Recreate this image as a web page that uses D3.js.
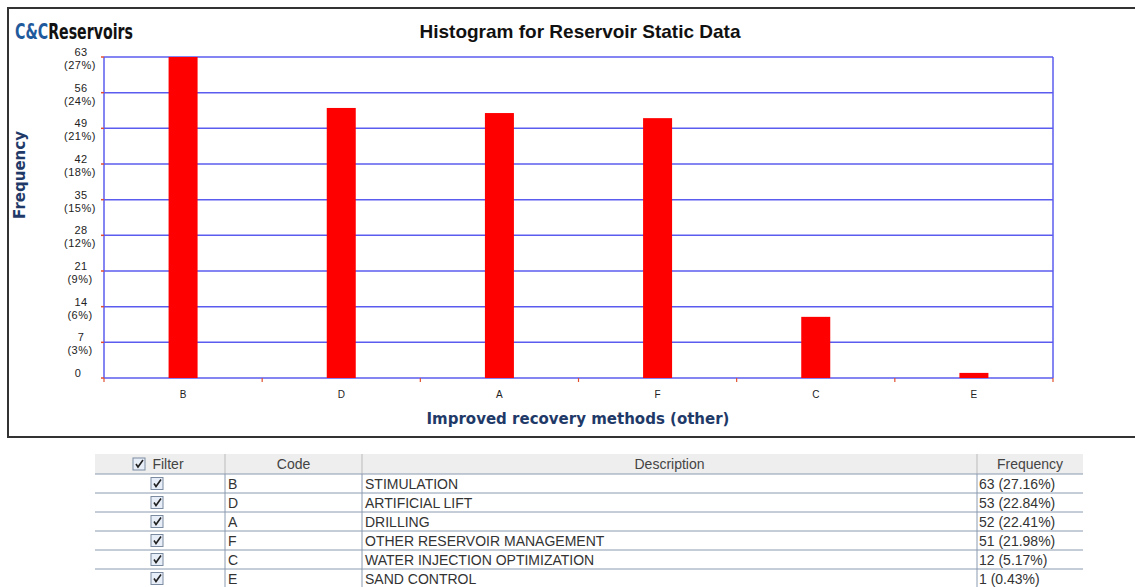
<!DOCTYPE html>
<html><head><meta charset="utf-8">
<script src="https://cdn.jsdelivr.net/npm/d3@7"></script>
<style>
body{margin:0;background:#fff;overflow:hidden}
svg{display:block}
</style></head>
<body>
<svg id="c" width="1135" height="587"></svg>
<script>
const codes = ["B","D","A","F","C","E"];
const descriptions = ["STIMULATION","ARTIFICIAL LIFT","DRILLING","OTHER RESERVOIR MANAGEMENT","WATER INJECTION OPTIMIZATION","SAND CONTROL"];
const frequencies = [63,53,52,51,12,1];
const percents = ["27.16%","22.84%","22.41%","21.98%","5.17%","0.43%"];
const yTicks = [0,7,14,21,28,35,42,49,56,63];
const yTickPct = ["","3%","6%","9%","12%","15%","18%","21%","24%","27%"];
const tableHeaders = ["Filter","Code","Description","Frequency"];

const svg = d3.select("#c");
const navy = "#1f3a68";
const gridC = "#5b5bef";

// outer frame
svg.append("rect").attr("x",8).attr("y",8).attr("width",1140).attr("height",429)
  .attr("fill","#fff").attr("stroke","#333").attr("stroke-width",2);

// logo (horizontally condensed via scale)
const logoFont = "'DejaVu Sans Condensed','Liberation Sans Narrow',sans-serif";
const logoG = svg.append("g");
const logo = logoG.append("text").attr("x",0).attr("y",0).attr("font-family",logoFont)
  .attr("font-weight","bold").attr("font-size",22);
logo.append("tspan").attr("fill","#1f5a9c").text("C&C");
logo.append("tspan").attr("fill","#111").text("Reservoirs");
const natW = logo.node().getComputedTextLength();
logoG.attr("transform",`translate(15,39) scale(${118/natW},1)`);

svg.append("text").attr("x",580).attr("y",38).attr("text-anchor","middle")
  .attr("font-family","Arial, 'Liberation Sans', sans-serif").attr("font-weight","bold")
  .attr("font-size",19).attr("fill","#111").text("Histogram for Reservoir Static Data");

const L=104, R=1053, T=57, B=378;
const x = d3.scaleBand().domain(codes).range([L,R]);
const y = d3.scaleLinear().domain([0,63]).range([B,T]);

// grid
const g = svg.append("g");
g.selectAll("line.grid").data(yTicks).join("line")
  .attr("x1",L).attr("x2",R).attr("y1",d=>y(d)).attr("y2",d=>y(d))
  .attr("stroke",gridC).attr("stroke-width",1.5);
g.append("line").attr("x1",L).attr("x2",L).attr("y1",T).attr("y2",B).attr("stroke",gridC).attr("stroke-width",1.5);
g.append("line").attr("x1",R).attr("x2",R).attr("y1",T).attr("y2",B).attr("stroke",gridC).attr("stroke-width",1.5);

// y ticks (small red)
g.selectAll("line.yt").data(yTicks).join("line")
  .attr("x1",L-3).attr("x2",L).attr("y1",d=>y(d)).attr("y2",d=>y(d))
  .attr("stroke","#e05030").attr("stroke-width",1.5);
// x ticks at band boundaries
const bounds = codes.map(c=>x(c)).concat([R]);
g.selectAll("line.xt").data(bounds).join("line")
  .attr("x1",d=>d).attr("x2",d=>d).attr("y1",B).attr("y2",B+4)
  .attr("stroke","#e05030").attr("stroke-width",1.2);

// bars
const bw = 29;
g.selectAll("rect.bar").data(codes).join("rect")
  .attr("x",(d)=>x(d)+x.bandwidth()/2-bw/2).attr("width",bw)
  .attr("y",(d,i)=>y(frequencies[i])).attr("height",(d,i)=>B-y(frequencies[i]))
  .attr("fill","#ff0000");

// y labels
const yl = svg.append("g").attr("font-family","Arial, 'Liberation Sans', sans-serif").attr("font-size",11).attr("fill","#222").attr("text-anchor","middle").attr("letter-spacing",0.5);
yTicks.forEach((t,i)=>{
  if(t===0){
    yl.append("text").attr("x",78).attr("y",y(t)-1).text("0");
  } else {
    yl.append("text").attr("x",81).attr("y",y(t)-1).text(t);
    yl.append("text").attr("x",80).attr("y",y(t)+12).text("("+yTickPct[i]+")");
  }
});

// x labels
svg.append("g").selectAll("text").data(codes).join("text")
  .attr("x",d=>x(d)+x.bandwidth()/2).attr("y",398).attr("text-anchor","middle")
  .attr("font-family","Arial, 'Liberation Sans', sans-serif").attr("font-size",10).attr("fill","#222").text(d=>d);

// axis titles
svg.append("text").attr("x",578).attr("y",424).attr("text-anchor","middle")
  .attr("font-family","Verdana, 'DejaVu Sans', sans-serif").attr("font-weight","bold")
  .attr("font-size",15).attr("fill",navy).text("Improved recovery methods (other)");
svg.append("text").attr("transform","translate(25,175) rotate(-90)").attr("text-anchor","middle")
  .attr("font-family","Verdana, 'DejaVu Sans', sans-serif").attr("font-weight","bold")
  .attr("font-size",15).attr("fill",navy).text("Frequency");

// table
const colX = [95,225,362,977,1083];
const tT = 454, hH = 20, rH = 19;
const tb = svg.append("g").attr("font-family","Arial, 'Liberation Sans', sans-serif").attr("font-size",14);
tb.append("rect").attr("x",colX[0]).attr("y",tT).attr("width",colX[4]-colX[0]).attr("height",hH).attr("fill","#eeeeee");
colX.slice(1,4).forEach(cx=>{
  tb.append("line").attr("x1",cx).attr("x2",cx).attr("y1",tT).attr("y2",tT+hH).attr("stroke","#bbb");
});
tableHeaders.forEach((h,i)=>{
  tb.append("text").attr("x",(colX[i]+colX[i+1])/2 + (i===0?8:0)).attr("y",tT+15).attr("text-anchor","middle").attr("fill","#444").text(h);
});
function checkbox(cx,cy){
  tb.append("rect").attr("x",cx-6).attr("y",cy-6).attr("width",12).attr("height",12).attr("fill","#e8eef8").attr("stroke","#7a8aa0");
  tb.append("path").attr("d",`M${cx-3},${cy} L${cx-1},${cy+3} L${cx+4},${cy-4}`).attr("fill","none").attr("stroke","#222").attr("stroke-width",1.6);
}
checkbox(139,tT+10);
codes.forEach((c,i)=>{
  const ry = tT+hH+i*rH;
  tb.append("line").attr("x1",colX[0]).attr("x2",colX[4]).attr("y1",ry).attr("y2",ry).attr("stroke","#8a9ab0").attr("stroke-width",1);
  checkbox(157,ry+rH/2);
  tb.append("text").attr("x",colX[1]+3).attr("y",ry+15).attr("fill","#333").text(c);
  tb.append("text").attr("x",colX[2]+3).attr("y",ry+15).attr("fill","#333").text(descriptions[i]);
  tb.append("text").attr("x",colX[3]+2).attr("y",ry+15).attr("fill","#333").text(frequencies[i]+" ("+percents[i]+")");
});
[colX[1],colX[2],colX[3]].forEach(cx=>{
  tb.append("line").attr("x1",cx).attr("x2",cx).attr("y1",tT+hH).attr("y2",587).attr("stroke","#8a9ab0");
});
</script>
</body></html>
